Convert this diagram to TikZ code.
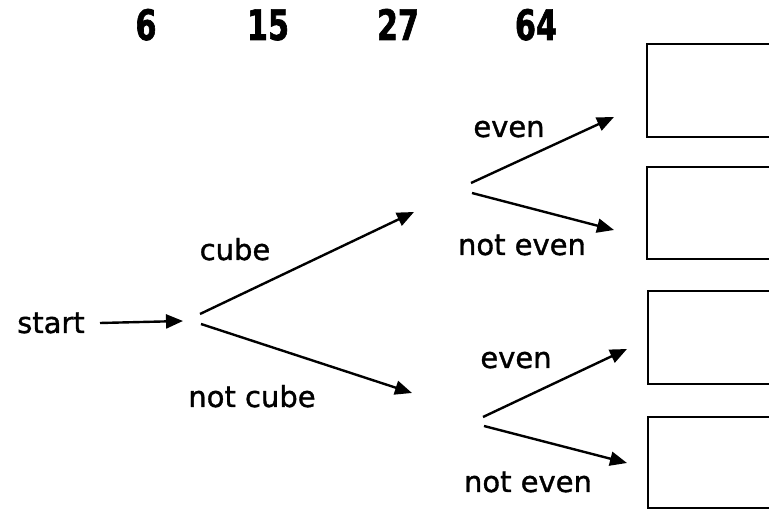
\documentclass[tikz,border=0pt]{standalone}
\usepackage{fontspec}
\setmainfont{DejaVu Sans}[FakeBold=1.2]
\newfontfamily\digitfont[FakeStretch=0.72,FakeBold=1.5]{DejaVu Sans Bold}
\usetikzlibrary{arrows.meta}
\begin{document}
\begin{tikzpicture}[x=1pt,y=-1pt,
  lbl/.style={font=\fontsize{29}{31}\selectfont, anchor=base, inner sep=0pt},
  num/.style={font=\digitfont\fontsize{42}{44}\selectfont, anchor=base, inner sep=0pt},
  arr/.style={line width=2.4pt, -{Triangle[length=17pt,width=14pt]}},
  answer/.style={draw, line width=2.4pt}]
\useasboundingbox (0,0) rectangle (769,510);
\clip (0,0) rectangle (769,510);
% numbers
\node[num] (n6) at (146,40) {6};
\node[num] (n15) at (268,40) {15};
\node[num] (n27) at (398,40) {27};
\node[num] (n64) at (536,40) {64};
% answer boxes
\draw[answer] (647,44) rectangle (790,137);
\draw[answer] (647,167) rectangle (790,259);
\draw[answer] (648,291) rectangle (790,384);
\draw[answer] (648,417) rectangle (790,508);
% labels
\node[lbl] (start) at (51,333) {start};
\node[lbl] (cube) at (235,260) {cube};
\node[lbl] (notcube) at (252,407) {not cube};
\node[lbl] (even1) at (509,137) {even};
\node[lbl] (noteven1) at (522,255) {not even};
\node[lbl] (even2) at (516,368) {even};
\node[lbl] (noteven2) at (528,492) {not even};
% connector points
\coordinate (s0) at (100,323);
\coordinate (s1) at (183,321);
\coordinate (c0) at (200,314);
\coordinate (c1) at (414,212);
\coordinate (d0) at (201,324);
\coordinate (d1) at (412,393);
\coordinate (u0) at (471,183);
\coordinate (u1) at (614,117);
\coordinate (v0) at (472,193);
\coordinate (v1) at (614,230);
\coordinate (p0) at (483,417);
\coordinate (p1) at (627,349);
\coordinate (q0) at (484,426);
\coordinate (q1) at (627,463);
% arrows
\draw[arr] (s0) -- (s1);
\draw[arr] (c0) -- (c1);
\draw[arr] (d0) -- (d1);
\draw[arr] (u0) -- (u1);
\draw[arr] (v0) -- (v1);
\draw[arr] (p0) -- (p1);
\draw[arr] (q0) -- (q1);
\end{tikzpicture}
\end{document}
